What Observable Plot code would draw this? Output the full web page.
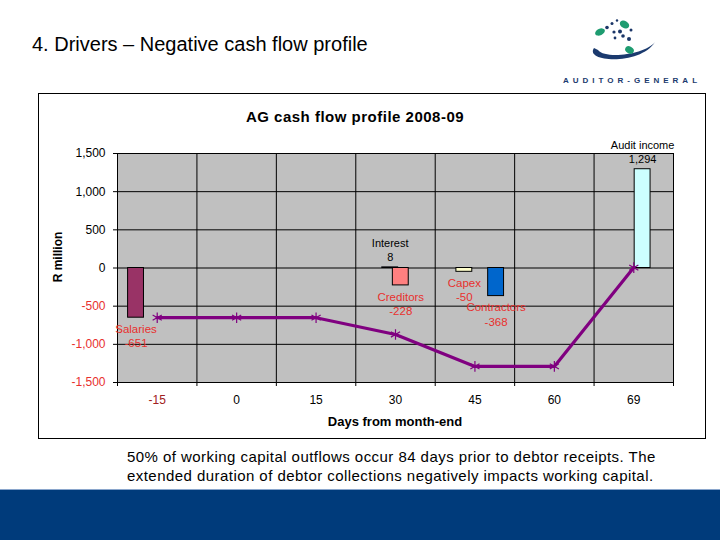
<!DOCTYPE html>
<html>
<head>
<meta charset="utf-8">
<script src="https://cdn.jsdelivr.net/npm/d3@7"></script>
<script src="https://cdn.jsdelivr.net/npm/@observablehq/plot@0.6"></script>
<style>
  html, body { margin: 0; padding: 0; background: #fff; }
  #page { position: relative; width: 720px; height: 540px; overflow: hidden; font-family: "Liberation Sans", Arial, sans-serif; background: #fff; }
  #slideTitle { position: absolute; left: 32px; top: 33px; font-size: 20px; color: #000; white-space: nowrap; }
  #logo { position: absolute; left: 560px; top: 0; }
  #box { position: absolute; left: 38px; top: 93px; width: 666px; height: 344px; border: 1px solid #000; background: #fff; }
  #chartTitle { position: absolute; left: 0; width: 632px; top: 14px; text-align: center; font-size: 15px; letter-spacing: 0.5px; font-weight: bold; }
  #chart { position: absolute; left: 0; top: 0; }
  .axlabel { position: absolute; font-weight: bold; white-space: nowrap; color: #000; }
  #ylabel { left: 19px; top: 163px; font-size: 12px; transform: translate(-50%, -50%) rotate(-90deg); }
  #xlabel { left: 356px; top: 327px; font-size: 13px; transform: translate(-50%, -50%); }
  #caption { position: absolute; left: 127px; top: 447px; font-size: 15px; letter-spacing: 0.45px; line-height: 19px; color: #000; white-space: nowrap; }
  #footer { position: absolute; left: 0; top: 489px; width: 720px; height: 51px; background: #003B7B; border-top: 1px solid #8aa6cc; box-sizing: border-box; }
</style>
</head>
<body>
<div id="page">
  <div id="slideTitle">4. Drivers – Negative cash flow profile</div>
  <svg id="logo" width="160" height="95" viewBox="560 0 160 95">
    <path d="M594 48 C584 62 640 66 655 42 C646 54 606 60 598 50 Z" fill="#1B3A6E"/>
    <ellipse cx="600" cy="32" rx="5.2" ry="3.2" transform="rotate(-25 600 32)" fill="#1E9C70"/>
    <ellipse cx="624.5" cy="24.5" rx="5" ry="3.6" transform="rotate(30 624.5 24.5)" fill="#1E9C70"/>
    <ellipse cx="629.5" cy="50" rx="4.6" ry="3.4" transform="rotate(30 629.5 50)" fill="#1E9C70"/>
    <circle cx="607" cy="27.5" r="1.8" fill="#1B3668"/>
    <circle cx="612" cy="23.5" r="1.5" fill="#1B3668"/>
    <circle cx="617" cy="20.5" r="1.2" fill="#1B3668"/>
    <circle cx="620" cy="31.5" r="2" fill="#1B3668"/>
    <circle cx="614" cy="32" r="1.6" fill="#1B3668"/>
    <circle cx="623" cy="36" r="1.8" fill="#1B3668"/>
    <circle cx="615" cy="38" r="1.4" fill="#1B3668"/>
    <circle cx="629" cy="39" r="2" fill="#1B3668"/>
    <circle cx="631" cy="30" r="1.5" fill="#1B3668"/>
    <text x="632" y="83" text-anchor="middle" font-family="Liberation Sans, Arial" font-size="8" font-weight="bold" letter-spacing="4" fill="#1B3A6E">AUDITOR-GENERAL</text>
  </svg>
  <div id="box">
    <div id="chart"></div>
    <div id="chartTitle">AG cash flow profile 2008-09</div>
    <div id="ylabel" class="axlabel">R million</div>
    <div id="xlabel" class="axlabel">Days from month-end</div>
  </div>
  <div id="caption">50% of working capital outflows occur 84 days prior to debtor receipts. The<br>extended duration of debtor collections negatively impacts working capital.</div>
  <div id="footer"></div>
</div>
<script>
// ---- data ----
const days = [-15, 0, 15, 30, 45, 60, 69];
const dayLabels = ["-15", "0", "15", "30", "45", "60", "69"];
const cashflow = [-651, -651, -651, -871, -1289, -1289, 5];

const flowNames = ["Salaries", "Interest", "Creditors", "Capex", "Contractors", "Audit income"];
const flowDays = [-19, 29, 31, 43, 49, 70];
const flowValues = [-651, 8, -228, -50, -368, 1294];
const flowColors = ["#993366", "#9999FF", "#FF8080", "#FFFFCC", "#0066CC", "#CCFFFF"];

const yTicks = [-1500, -1000, -500, 0, 500, 1000, 1500];

// ---- build ----
const red = "#E8302E";
const fmt = v => v.toLocaleString("en-US");
const dayToIndex = d3.scaleLinear().domain(days).range(d3.range(days.length));
const flows = flowNames.map((name, i) => ({name, day: flowDays[i], value: flowValues[i], color: flowColors[i]}));
const points = days.map((d, i) => ({i, v: cashflow[i]}));
const idx = days.map((d, i) => i);
const bandEdges = d3.range(-0.5, days.length, 1);
const halfW = 0.1;

const chart = Plot.plot({
  width: 666,
  height: 344,
  marginLeft: 78,
  marginRight: 32,
  marginTop: 59,
  marginBottom: 56,
  style: {background: "transparent", fontFamily: "Liberation Sans, Arial, sans-serif", fontSize: "12px", color: "#000"},
  x: {domain: [-0.5, days.length - 0.5]},
  y: {domain: [-1500, 1500]},
  color: {type: "identity"},
  marks: [
    Plot.frame({fill: "#C0C0C0", stroke: "none"}),
    Plot.ruleY(yTicks, {stroke: "#000", strokeWidth: 1}),
    Plot.ruleX(bandEdges, {stroke: "#000", strokeWidth: 1, insetBottom: -4}),
    Plot.frame({stroke: "#000", strokeWidth: 1}),
    Plot.rect(flows, {
      x1: d => dayToIndex(d.day) - halfW,
      x2: d => dayToIndex(d.day) + halfW,
      y1: 0, y2: "value",
      fill: "color", stroke: "#000", strokeWidth: 1
    }),
    Plot.line(points, {x: "i", y: "v", stroke: "#800080", strokeWidth: 3.2}),
    Plot.dot(points, {x: "i", y: "v", symbol: "asterisk", r: 5, stroke: "#800080", strokeWidth: 1.2}),
    Plot.text(flows.filter(d => d.value < 0), {
      x: d => dayToIndex(d.day), y: "value",
      text: d => d.name + "\n" + fmt(d.value),
      lineAnchor: "top", dy: 5, lineHeight: 1.25, fill: red, fontSize: 11.5
    }),
    Plot.text(flows.filter(d => d.value >= 0), {
      x: d => dayToIndex(d.day), y: "value",
      text: d => d.name + "\n" + fmt(d.value),
      lineAnchor: "bottom", dy: -6, lineHeight: 1.3, fill: "#000", fontSize: 11
    }),
    Plot.axisY(yTicks.filter(v => v < 0), {
      tickSize: 4, tickPadding: 8, stroke: "#000", fill: red,
      tickFormat: fmt, label: null, fontSize: 12
    }),
    Plot.axisY(yTicks.filter(v => v >= 0), {
      tickSize: 4, tickPadding: 8, stroke: "#000", fill: "#000",
      tickFormat: fmt, label: null, fontSize: 12
    }),
    Plot.axisX(idx.filter(i => days[i] < 0), {
      tickSize: 0, tickPadding: 13, fill: "#A02020",
      tickFormat: i => dayLabels[i], label: null, fontSize: 12
    }),
    Plot.axisX(idx.filter(i => days[i] >= 0), {
      tickSize: 0, tickPadding: 13, fill: "#000",
      tickFormat: i => dayLabels[i], label: null, fontSize: 12
    })
  ]
});
document.getElementById("chart").appendChild(chart);
</script>
</body>
</html>
